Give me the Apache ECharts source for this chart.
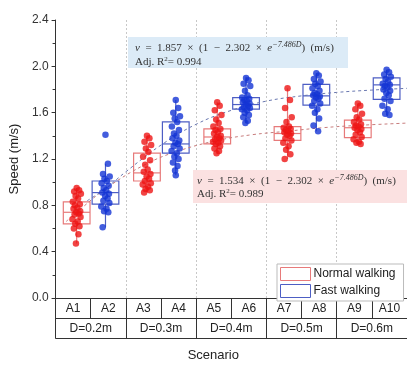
<!DOCTYPE html>
<html><head><meta charset="utf-8">
<script src="https://cdn.jsdelivr.net/npm/echarts@6/dist/echarts.min.js"></script>
<style>html,body{margin:0;padding:0;background:#fff}#c{width:407px;height:367px}</style>
</head><body><div id="c"></div>
<script>
const categories = ['A1','A2','A3','A4','A5','A6','A7','A8','A9','A10'];
const groups = ['D=0.2m','D=0.3m','D=0.4m','D=0.5m','D=0.6m'];
const yTicks = [0, 0.4, 0.8, 1.2, 1.6, 2.0, 2.4];
// individual speeds per scenario (m/s)
const A1 = [0.95,0.93,0.92,0.90,0.88,0.86,0.83,0.81,0.80,0.78,0.77,0.75,0.74,0.73,0.72,0.70,0.68,0.66,0.64,0.62,0.60,0.55,0.47];
const A2 = [1.41,1.16,1.07,1.05,1.03,1.01,0.99,0.97,0.95,0.93,0.91,0.90,0.88,0.86,0.84,0.82,0.79,0.77,0.75,0.74,0.61];
const A3 = [1.40,1.38,1.35,1.32,1.29,1.26,1.22,1.19,1.15,1.11,1.09,1.07,1.05,1.03,1.01,0.99,0.98,0.96,0.94,0.93,0.91];
const A4 = [1.71,1.64,1.60,1.57,1.55,1.52,1.48,1.45,1.42,1.40,1.38,1.36,1.34,1.33,1.31,1.29,1.27,1.25,1.22,1.20,1.17,1.14,1.10,1.06];
const A5 = [1.69,1.66,1.62,1.58,1.54,1.51,1.48,1.46,1.45,1.43,1.42,1.40,1.39,1.38,1.37,1.36,1.35,1.34,1.33,1.31,1.29,1.27,1.25];
const A6 = [1.90,1.88,1.85,1.83,1.79,1.75,1.73,1.72,1.71,1.70,1.69,1.68,1.67,1.66,1.65,1.64,1.63,1.62,1.60,1.58,1.56,1.53,1.51];
const A7 = [1.81,1.71,1.64,1.56,1.52,1.48,1.47,1.46,1.45,1.44,1.43,1.42,1.41,1.40,1.38,1.36,1.34,1.31,1.28,1.24,1.20];
const A8 = [1.94,1.92,1.89,1.87,1.85,1.83,1.81,1.79,1.77,1.76,1.75,1.74,1.73,1.72,1.70,1.68,1.66,1.63,1.60,1.55,1.49,1.44];
const A9 = [1.68,1.66,1.63,1.59,1.56,1.54,1.52,1.50,1.49,1.48,1.47,1.46,1.45,1.43,1.41,1.39,1.37,1.35,1.34,1.33];
const A10 = [1.97,1.95,1.93,1.91,1.89,1.87,1.85,1.84,1.83,1.82,1.80,1.79,1.77,1.75,1.72,1.70,1.66,1.63,1.59,1.58];
// box stats: [whisker low, Q1, median, Q3, whisker high]
const boxNormal = [[0.47,0.64,0.74,0.83,0.95],[0.91,1.01,1.08,1.25,1.40],[1.24,1.33,1.39,1.46,1.69],[1.20,1.36,1.42,1.48,1.81],[1.33,1.385,1.47,1.535,1.68]];
const boxFast = [[0.61,0.81,0.91,1.01,1.16],[1.06,1.25,1.33,1.52,1.71],[1.51,1.63,1.67,1.73,1.91],[1.44,1.665,1.745,1.845,1.94],[1.58,1.715,1.84,1.90,1.97]];
// fitted curves: [x position (scenario units), speed]
const fitFast = [[0.9,0.84],[1.4,0.94],[2.0,1.09],[3.0,1.32],[4.0,1.50],[5.0,1.62],[6.0,1.70],[7.0,1.745],[8.0,1.775],[9.0,1.795],[10,1.81]];
const fitNormal = [[0.3,0.66],[0.6,0.74],[1.5,0.96],[2.6,1.16],[3.5,1.27],[4.6,1.36],[5.6,1.41],[6.6,1.44],[7.6,1.47],[8.6,1.49],[10,1.51]];
const jitter = [0,0.07,-0.07,0.12,-0.03,0.04,-0.11,0.09,-0.05,0.02,-0.09,0.1,-0.01,0.06,-0.06,0.11,-0.12,0.03,-0.04,0.08,-0.08,0.05,-0.02,0];

const RED='#ee1515', BLUE='#1434d4', RBOX='#e77a7a', BBOX='#4d5ec4';
const all=[A1,A2,A3,A4,A5,A6,A7,A8,A9,A10];
function pts(isFast){
  const out=[];
  for(let g=0;g<5;g++){
    const arr=all[2*g+(isFast?1:0)];
    const cx=2*g+(isFast?1.42:0.6);
    arr.forEach((v,i)=>out.push([cx+jitter[i%jitter.length],v]));
  }
  return out;
}
function boxData(stats,isFast){return stats.map((s,g)=>[2*g+(isFast?1.42:0.6)].concat(s));}
function boxRender(color){
  return function(params,api){
    const x=api.value(0);
    const w=api.size([0.76,0])[0];
    const lo=api.coord([x,api.value(1)]),q1=api.coord([x,api.value(2)]),md=api.coord([x,api.value(3)]),q3=api.coord([x,api.value(4)]),hi=api.coord([x,api.value(5)]);
    const st={stroke:color,lineWidth:1.2,fill:null};
    return {type:'group',children:[
      {type:'rect',shape:{x:lo[0]-w/2,y:q3[1],width:w,height:q1[1]-q3[1]},style:{stroke:color,lineWidth:1.2,fill:'rgba(0,0,0,0)'}},
      {type:'line',shape:{x1:md[0]-w/2,y1:md[1],x2:md[0]+w/2,y2:md[1]},style:st},
      {type:'line',shape:{x1:lo[0],y1:lo[1],x2:lo[0],y2:q1[1]},style:st},
      {type:'line',shape:{x1:hi[0],y1:hi[1],x2:hi[0],y2:q3[1]},style:st}
    ]};
  };
}
const chart=echarts.init(document.getElementById('c'));
const serif='"Liberation Serif","DejaVu Serif",serif';
const rich={i:{fontStyle:'italic',fontFamily:serif,fontSize:11,color:'#333'},sup:{fontStyle:'italic',fontFamily:serif,fontSize:8,color:'#333',padding:[0,0,6,0]},s2:{fontFamily:serif,fontSize:7,color:'#333',padding:[0,0,6,0]}};
const S='\u2002';
function eq(a){return '{i|v}'+S+'='+S+a+S+'×'+S+'(1'+S+'−'+S+'2.302'+S+'×'+S+'{i|e}{sup|−7.486D})'+S+'(m/s)';}
chart.setOption({
  animation:false,
  grid:{left:51,top:20,width:357,height:290,containLabel:false},
  xAxis:[
    {type:'value',min:0,max:10,interval:2,position:'top',axisLine:{show:true,lineStyle:{color:'#333',width:1}},axisTick:{show:false},axisLabel:{show:false},splitLine:{show:true,lineStyle:{color:'#c8c8c8',type:[2,2],width:1}}},
    {type:'category',data:categories,position:'bottom',axisLine:{show:true,onZero:false,lineStyle:{color:'#333'}},axisTick:{show:true,interval:0,length:20,lineStyle:{color:'#333'}},axisLabel:{margin:5,fontSize:12,color:'#222',fontFamily:'Liberation Sans, Arial',interval:0},splitLine:{show:false}},
    {type:'category',data:groups,position:'bottom',offset:20,axisLine:{show:true,onZero:false,lineStyle:{color:'#333'}},axisTick:{show:true,interval:0,length:20,lineStyle:{color:'#333'}},axisLabel:{margin:5,fontSize:12,color:'#222',fontFamily:'Liberation Sans, Arial',interval:0},splitLine:{show:false}},
    {type:'category',data:[''],position:'bottom',offset:40,axisLine:{show:true,onZero:false,lineStyle:{color:'#333'}},axisTick:{show:false},axisLabel:{show:false},name:'Scenario',nameLocation:'middle',nameGap:11,nameTextStyle:{fontSize:13,color:'#222',fontFamily:'Liberation Sans, Arial',padding:[0,36,0,0]}}
  ],
  yAxis:{type:'value',min:yTicks[0],max:yTicks[yTicks.length-1],interval:0.4,axisLine:{show:true,lineStyle:{color:'#333'}},axisTick:{show:true,length:4,lineStyle:{color:'#333'}},minorTick:{show:true,splitNumber:2,length:3,lineStyle:{color:'#333'}},splitLine:{show:false},axisLabel:{formatter:v=>v.toFixed(1),fontSize:12,color:'#333',margin:7,fontFamily:'Liberation Sans, Arial'},name:'Speed (m/s)',nameLocation:'middle',nameGap:34,nameTextStyle:{fontSize:13,color:'#222',fontFamily:'Liberation Sans, Arial'}},
  legend:{data:[{name:'Normal walking',icon:'rect',itemStyle:{color:'rgba(255,255,255,0)',borderColor:RBOX,borderWidth:1}},{name:'Fast walking',icon:'rect',itemStyle:{color:'rgba(255,255,255,0)',borderColor:BBOX,borderWidth:1}}],
    orient:'vertical',left:277,top:264,itemWidth:30,itemHeight:13,itemGap:3,padding:[3,8,3,3],borderColor:'#bbb',borderWidth:1,backgroundColor:'#fff',textStyle:{fontSize:12,color:'#222',fontFamily:'Liberation Sans, Arial',padding:[0,0,0,-2]}},
  graphic:[
    {type:'rect',shape:{x:128,y:37,width:220,height:31},style:{fill:'#dcebf7'},z:1},
    {type:'text',x:135,y:41,style:{text:eq('1.857')+'\nAdj. R{s2|2}= 0.994',rich:rich,fontFamily:serif,fontSize:11,fill:'#333',lineHeight:14},z:2},
    {type:'rect',shape:{x:193,y:170,width:214,height:33},style:{fill:'#fbe1e1'},z:1},
    {type:'text',x:197,y:175,style:{text:eq('1.534')+'\nAdj. R{s2|2}= 0.989',rich:rich,fontFamily:serif,fontSize:11,fill:'#333',lineHeight:12.5},z:2}
  ],
  series:[
    {name:'Normal walking',type:'custom',xAxisIndex:0,renderItem:boxRender(RBOX),data:boxData(boxNormal,false),z:3,itemStyle:{color:RBOX}},
    {name:'Fast walking',type:'custom',xAxisIndex:0,renderItem:boxRender(BBOX),data:boxData(boxFast,true),z:3,itemStyle:{color:BBOX}},
    {name:'fitN',type:'line',xAxisIndex:0,data:fitNormal,smooth:0.4,showSymbol:false,lineStyle:{color:'#c77c7c',width:1,type:[3,3]},z:4},
    {name:'fitF',type:'line',xAxisIndex:0,data:fitFast,smooth:0.4,showSymbol:false,lineStyle:{color:'#6a78b0',width:1,type:[3,3]},z:4},
    {name:'ptsN',type:'scatter',xAxisIndex:0,data:pts(false),symbolSize:6.5,itemStyle:{color:RED},z:5},
    {name:'ptsF',type:'scatter',xAxisIndex:0,data:pts(true),symbolSize:6.5,itemStyle:{color:BLUE},z:5}
  ]
});
</script></body></html>
